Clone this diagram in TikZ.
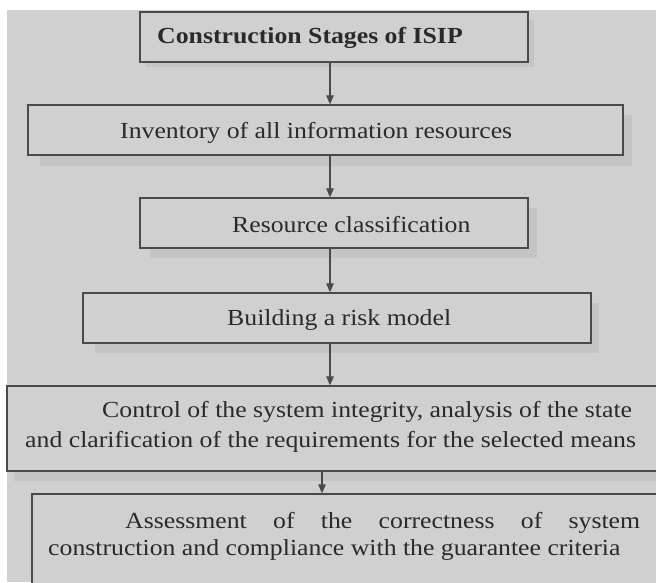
\documentclass[tikz,border=0pt]{standalone}
\usepackage{fontspec}
\setmainfont{Liberation Serif}[FakeStretch=1.12]
\usetikzlibrary{arrows.meta}
\definecolor{paper}{HTML}{D0D0D0}
\definecolor{boxline}{HTML}{4A4A4A}
\definecolor{inkc}{HTML}{2A2A2A}
\definecolor{shade}{HTML}{C4C4C4}
\begin{document}
\begin{tikzpicture}[x=1pt,y=-1pt,
  stagebox/.style={draw=boxline,line width=1.3pt,fill=paper,inner sep=0pt},
  stagetext/.style={anchor=base west,inner sep=0pt,text=inkc,font=\fontsize{23}{28}\selectfont},
  flow/.style={draw=boxline,line width=1.1pt,-{Triangle[length=9pt,width=7.5pt]}},
  boxshade/.style={fill=shade}]
\path[use as bounding box] (0,0) rectangle (656,582);
\fill[white] (0,0) rectangle (656,582);
\fill[paper] (7,10) rectangle (656,582);
\begin{scope}
\clip (0,0) rectangle (656,582);
% soft shadows
\fill[boxshade] (146,20) rectangle (534,67);
\fill[boxshade] (40,115) rectangle (632,166);
\fill[boxshade] (150,208) rectangle (537,258);
\fill[boxshade] (95,303) rectangle (599,353);
\fill[boxshade] (14,396) rectangle (700,481);
% boxes
\node[stagebox,minimum width=388pt,minimum height=50pt] (b1) at (334,37) {};
\node[stagebox,minimum width=595pt,minimum height=50pt] (b2) at (325.5,130) {};
\node[stagebox,minimum width=388pt,minimum height=50pt] (b3) at (334,223) {};
\node[stagebox,minimum width=508pt,minimum height=50pt] (b4) at (337,318) {};
\node[stagebox,minimum width=693pt,minimum height=85pt] (b5) at (353.5,428.5) {};
\node[stagebox,minimum width=668pt,minimum height=126pt] (b6) at (366,557) {};
% texts
\node[stagetext,font=\fontsize{23}{28}\selectfont\bfseries] (t1) at (157,43) {Construction Stages of ISIP};
\node[stagetext] (t2) at (120,138) {Inventory of all information resources};
\node[stagetext] (t3) at (232,232) {Resource classification};
\node[stagetext] (t4) at (227,325) {Building a risk model};
\node[stagetext] (t5a) at (102,417) {Control of the system integrity, analysis of the state};
\node[stagetext] (t5b) at (25,447) {and clarification of the requirements for the selected means};
\node[stagetext] (t6a) at (125,528) {\makebox[515pt][s]{Assessment of the correctness of system}};
\node[stagetext] (t6b) at (48,555) {construction and compliance with the guarantee criteria};
% arrows
\coordinate (ax) at (330,0);
\coordinate (axb) at (322,0);
\draw[flow] (b1.south -| ax) -- (b2.north -| ax);
\draw[flow] (b2.south -| ax) -- (b3.north -| ax);
\draw[flow] (b3.south -| ax) -- (b4.north -| ax);
\draw[flow] (b4.south -| ax) -- (b5.north -| ax);
\draw[flow] (b5.south -| axb) -- (b6.north -| axb);
\end{scope}
\end{tikzpicture}
\end{document}
